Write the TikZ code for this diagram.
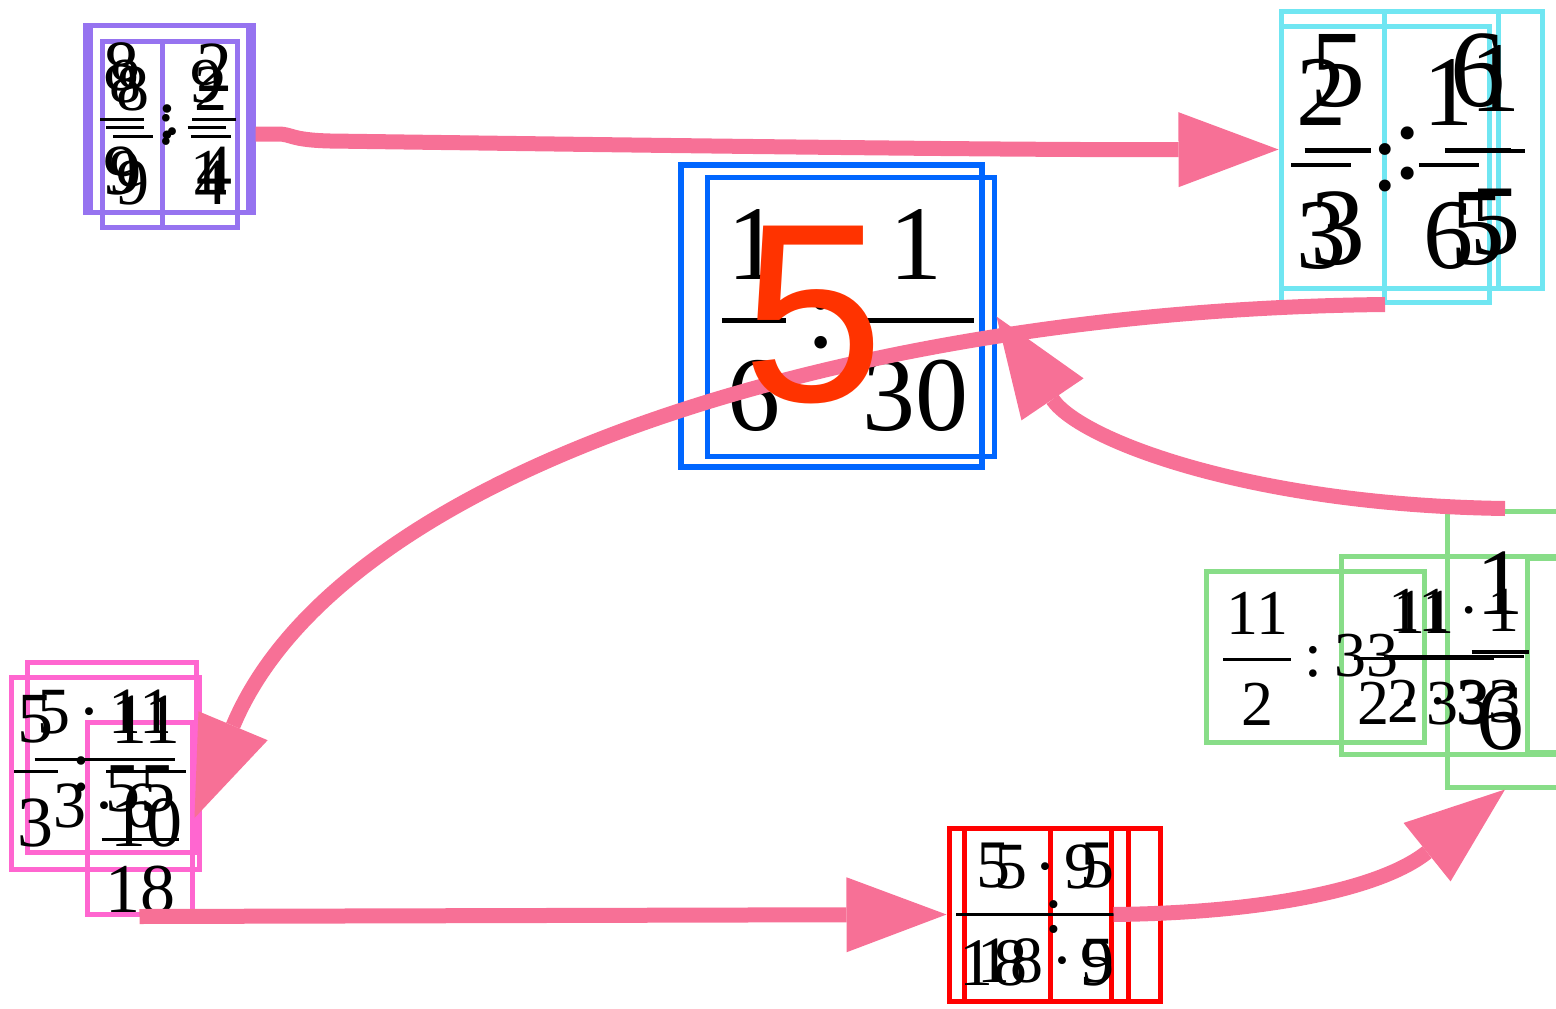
\documentclass[tikz,border=0pt]{standalone}
\usepackage{fontspec}
\setmainfont{Liberation Serif}
\newfontfamily\sansfive{Liberation Sans}
\usetikzlibrary{arrows.meta,fit}
\definecolor{arrowpink}{HTML}{F77096}
\definecolor{purplebox}{HTML}{9673F0}
\definecolor{cyanbox}{HTML}{70E6F2}
\definecolor{bluebox}{HTML}{0066FF}
\definecolor{magentabox}{HTML}{FF66D0}
\definecolor{redbox}{HTML}{FF0000}
\definecolor{greenbox}{HTML}{88DD88}
\definecolor{fivecolor}{HTML}{FF3300}
\newcommand\fs[1]{\fontsize{#1}{#1}\selectfont}
% text-mode fraction: bar sits 0.25em above the baseline
\newcommand\fr[2]{{\setbox0\hbox{#1}\setbox2\hbox{#2}%
  \dimen0=\wd0 \ifdim\wd2>\dimen0 \dimen0=\wd2 \fi
  \advance\dimen0 by 0.1em
  \lower0.78em\vbox{\hbox to\dimen0{\hss\box0\hss}\kern0.37em
    \hrule height0.045em\kern0.31em
    \hbox to\dimen0{\hss\vrule height0.7em width0pt\box2\hss}}}}
\newcommand\cl{\hspace{0.2em}:\hspace{0.2em}}
\newcommand\dt{\hspace{0.12em}·\hspace{0.12em}}
\tikzset{
  frame/.style={draw, rectangle, inner sep=0pt, line width=5pt},
  expr/.style={inner sep=0pt, anchor=base, text=black},
  conn/.style={draw=arrowpink, line width=15pt,
    -{Triangle[length=100pt,width=75pt,line width=0pt]}},
}
\begin{document}
\begin{tikzpicture}[x=1pt,y=-1pt]
\useasboundingbox (0,0) rectangle (1556,1009);
\clip (0,0) rectangle (1556,1009);

% ---- frames ----
% purple
\node[frame, draw=purplebox, fit={(85,25) (253,212)}] (P1) {};
\node[frame, draw=purplebox, fit={(90,25) (248,212)}] (P4) {};
\node[frame, draw=purplebox, fit={(102,41) (237,227)}] (P2) {};
\node[frame, draw=purplebox, fit={(162,41) (237,227)}] (P3) {};
% cyan
\node[frame, draw=cyanbox, fit={(1281,11) (1542,288)}] (C1) {};
\node[frame, draw=cyanbox, fit={(1281,26) (1489,302)}] (C2) {};
\node[frame, draw=cyanbox, fit={(1384,11) (1498,288)}] (C3) {};
\node[frame, draw=cyanbox, fit={(1384,26) (1489,302)}] (C4) {};
% blue
\node[frame, draw=bluebox, line width=6pt, fit={(681,165) (982,467)}] (B1) {};
\node[frame, draw=bluebox, line width=5pt, fit={(707,177) (994,456)}] (B2) {};
% magenta
\node[frame, draw=magentabox, fit={(27,662) (196,852)}] (K1) {};
\node[frame, draw=magentabox, fit={(11,677) (199,869)}] (K2) {};
\node[frame, draw=magentabox, fit={(87,722) (192,914)}] (K3) {};
% red
\node[frame, draw=redbox, fit={(949,828) (1160,1001)}] (R1) {};
\node[frame, draw=redbox, fit={(964,828) (1111,1001)}] (R2) {};
\node[frame, draw=redbox, fit={(1050,828) (1128,1001)}] (R3) {};
% green
\node[frame, draw=greenbox, fit={(1206,571) (1424,742)}] (G1) {};
\node[frame, draw=greenbox, fit={(1341,556) (1567,754)}] (G2) {};
\node[frame, draw=greenbox, fit={(1447,511) (1563,787)}] (G3) {};
\node[frame, draw=greenbox, fit={(1527,558) (1620,752)}] (G4) {};

% ---- expressions ----
% purple
\node[expr, font=\fs{72}] (pa) at (168,138) {\fr{8}{9}\cl\fr{2}{4}};
\node[expr, font=\fs{66}] (pb) at (172,153.5) {\fr{8}{9}\dt\fr{2}{4}};
\node[expr, font=\fs{64}] (pc) at (166,144) {\fr{8}{9}\cl\fr{9}{1}};
% cyan
\node[expr, font=\fs{110}] (ca) at (1408,178.5) {\fr{5}{3}\cl\fr{6}{5}};
\node[expr, font=\fs{100}] (cb) at (1385,190) {\fr{2}{3}\cl\fr{1}{6}};
\node[expr, font=\fs{100}] (cc) at (1495,176) {\fr{1}{5}};
% blue
\node[expr, font=\fs{106}] (ba) at (848,347.5) {\fr{1}{6}\cl\fr{1}{30}};
% magenta
\node[expr, font=\fs{72}] (ka) at (100,790) {\fr{5}{3}\cl\fr{11}{10}};
\node[expr, font=\fs{66}] (kb) at (105,776.5) {\fr{5\dt 11}{3\dt 6}};
\node[expr, font=\fs{70}] (kc) at (140,857.5) {\fr{55}{18}};
% red
\node[expr, font=\fs{68}] (ra) at (1037,932) {\fr{5}{18}\cl\fr{5}{9}};
\node[expr, font=\fs{66}] (rb) at (1046,931.5) {\fr{5\dt 9}{18\dt 5}};
% green
\node[expr, font=\fs{64}] (ga) at (1311,676) {\fr{11}{2}\cl 33};
\node[expr, font=\fs{64}] (gd) at (1424,675) {\fr{11}{2\dt 33}};
\node[expr, font=\fs{64}] (gb) at (1454,673) {\fr{11\dt 1}{2\dt 33}};
\node[expr, font=\fs{95}] (gc) at (1500,675.75) {\fr{1}{6}};

% ---- connectors ----
\draw[conn] (P1.east |- P2.east) -- (278,134)
   .. controls (292,134) and (290,140) .. (330,141)
   .. controls (700,146) and (1000,150) .. (C1.west);
\draw[conn] (C2.south) .. controls (850,310) and (340,470) .. (K3.east);
\draw[conn] (G3.north) .. controls (1250,505) and (1080,440) .. (B2.east);
\draw[conn] (K3.south) -- (R1.west);
\draw[conn] (R2.east) .. controls (1260,913) and (1380,890) .. (G3.south);

% ---- result ----
\node[inner sep=0pt, text=fivecolor, font={\sansfive\fs{255}}] (five) at (813,315) {5};
\end{tikzpicture}
\end{document}
